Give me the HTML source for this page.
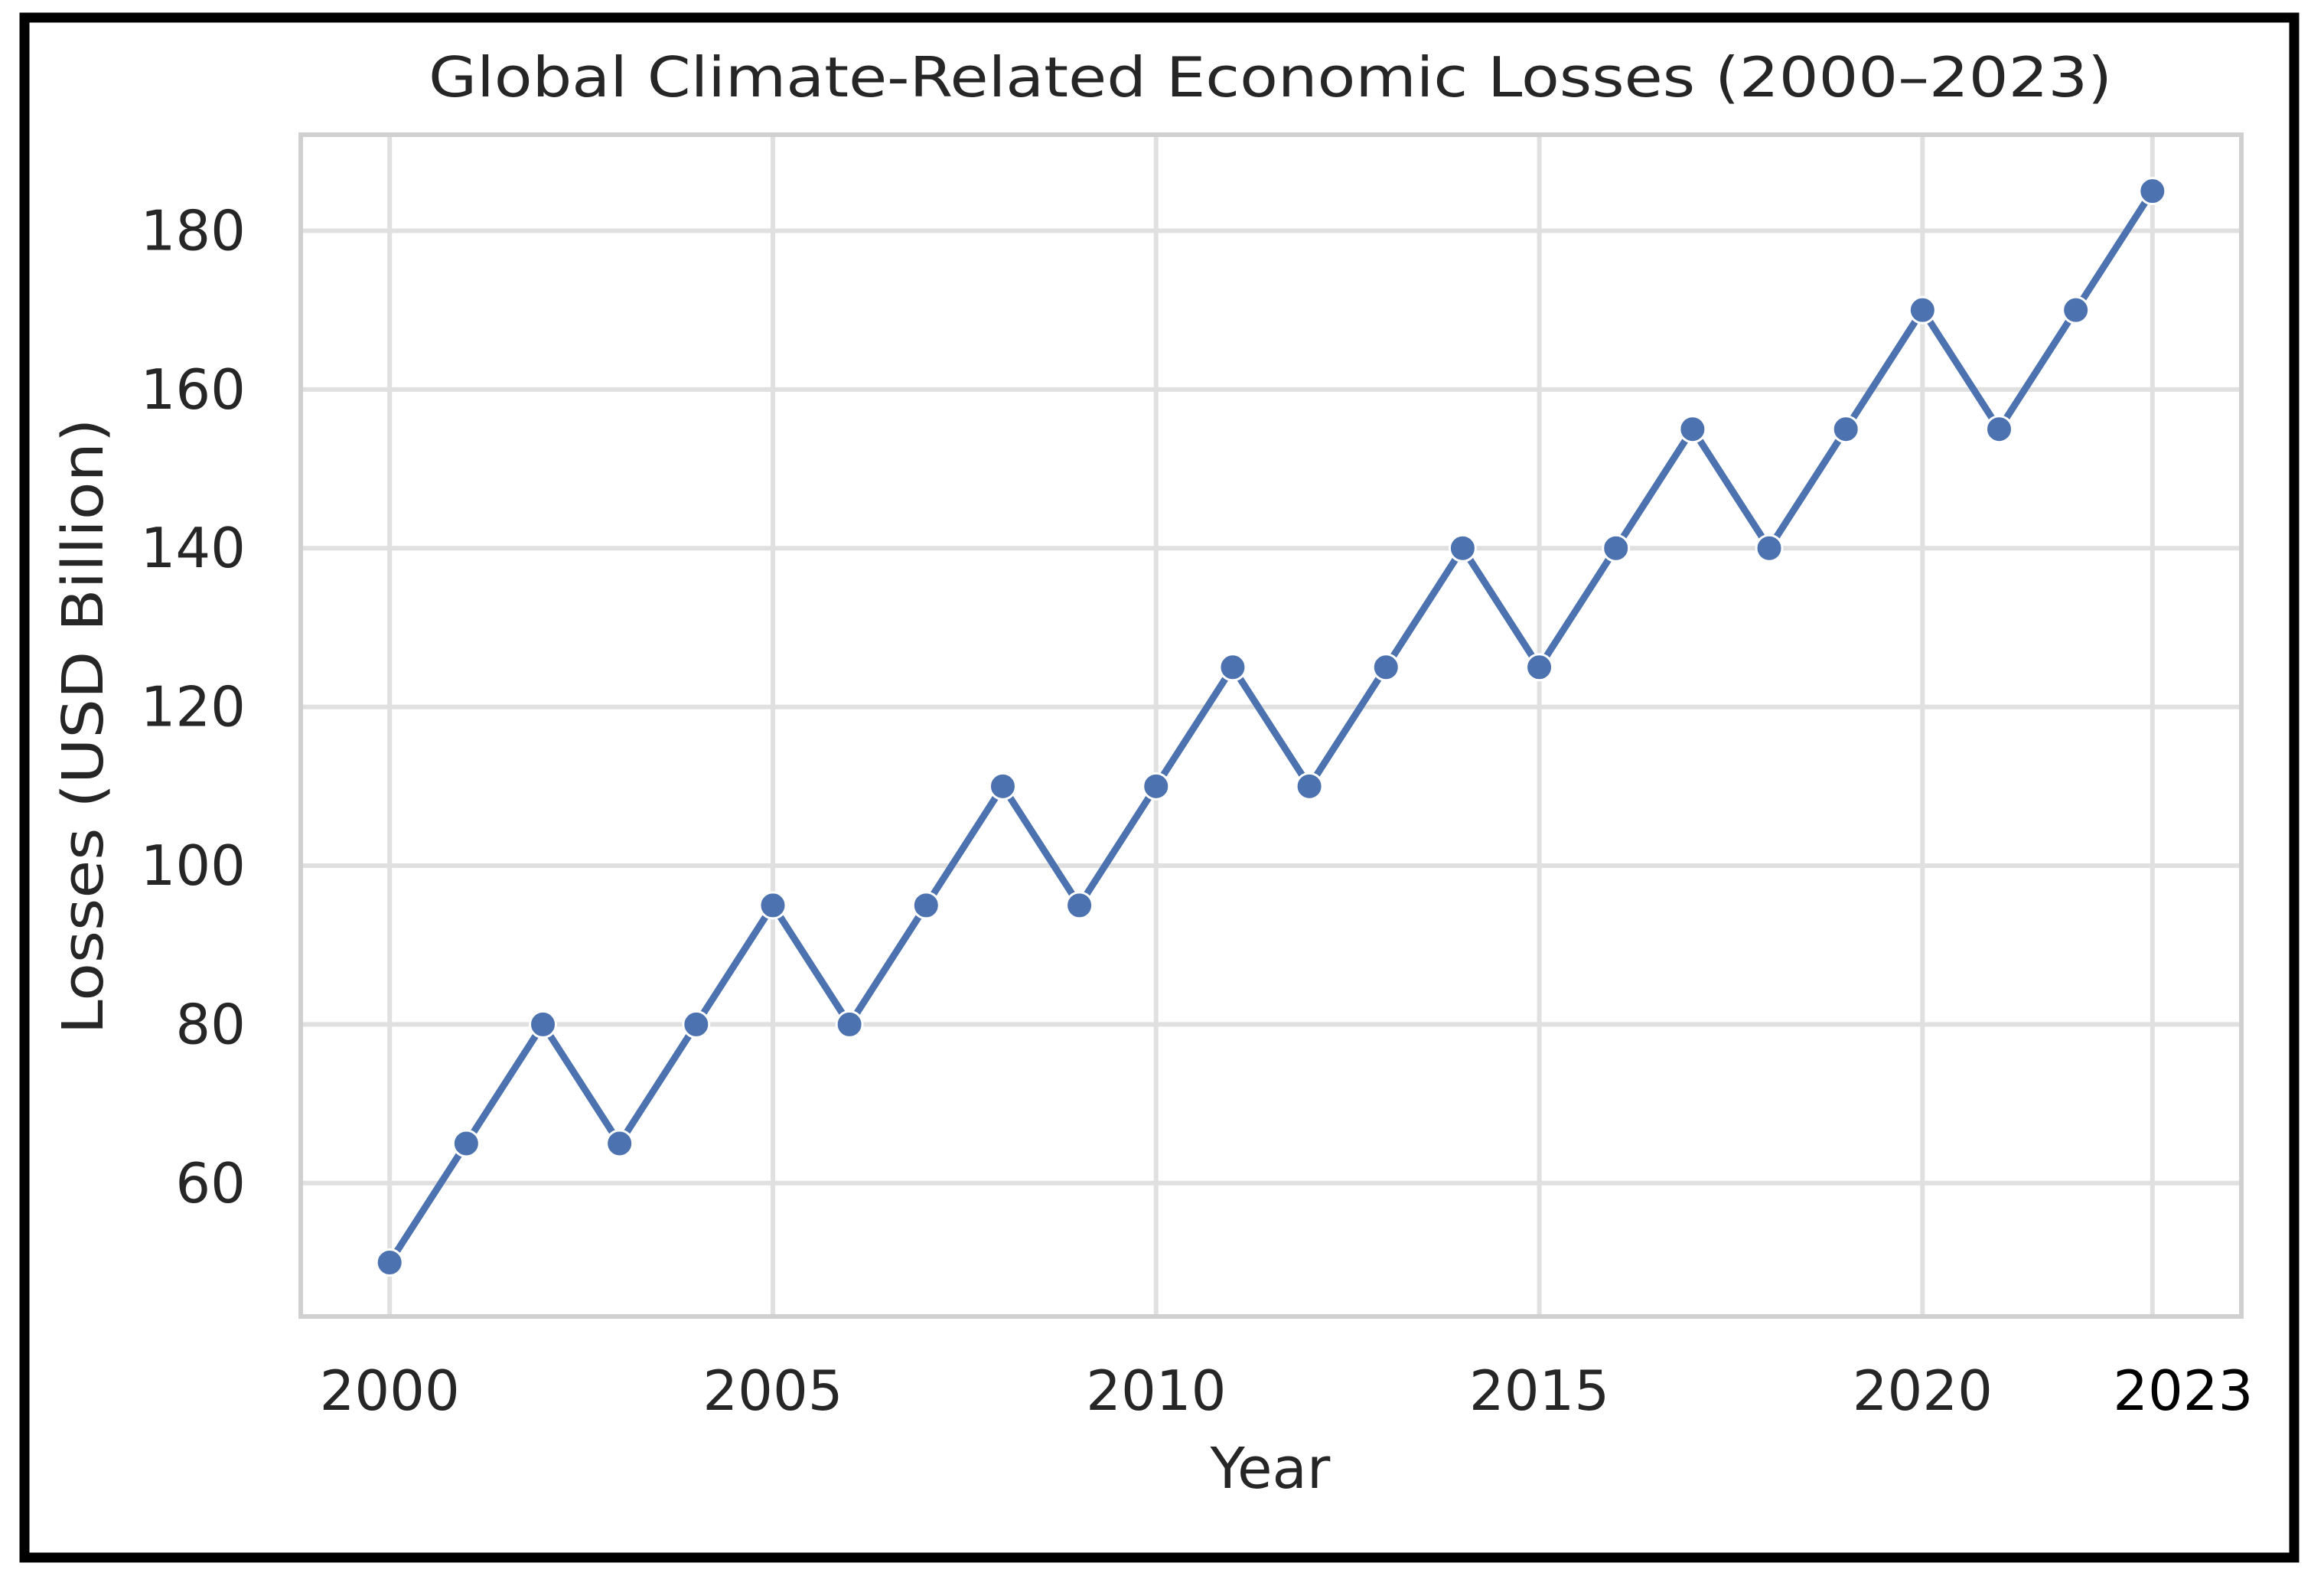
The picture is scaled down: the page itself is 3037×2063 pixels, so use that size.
<!DOCTYPE html>
<html><head><meta charset="utf-8"><style>
html,body{margin:0;padding:0;background:#fff}
svg{display:block}
text{font-family:"DejaVu Sans","Liberation Sans",sans-serif;fill:#262626}
</style></head><body>
<svg id="chart" width="3037" height="2063" viewBox="0 0 3037 2063">
<rect x="0" y="0" width="3037" height="2063" fill="#fff"/>
<rect x="32" y="23" width="2966" height="2012" fill="none" stroke="#000" stroke-width="13"/>
<g id="grid"></g>
<rect x="393" y="176" width="2536" height="1544" fill="none" stroke="#d0d0d0" stroke-width="6"/>
<g id="series"></g>
<g id="ticks"></g>
<text x="1660" y="126" font-size="72" text-anchor="middle" textLength="2200" lengthAdjust="spacingAndGlyphs">Global Climate-Related Economic Losses (2000–2023)</text>
<text x="1660" y="1944" font-size="74" text-anchor="middle">Year</text>
<text transform="translate(134,949) rotate(-90)" font-size="74" text-anchor="middle" textLength="805" lengthAdjust="spacingAndGlyphs">Losses (USD Billion)</text>
</svg>
<script>
const years = [2000,2001,2002,2003,2004,2005,2006,2007,2008,2009,2010,2011,2012,2013,2014,2015,2016,2017,2018,2019,2020,2021,2022,2023];
const losses = [50,65,80,65,80,95,80,95,110,95,110,125,110,125,140,125,140,155,140,155,170,155,170,185];
const xTicks = [2000,2005,2010,2015,2020,2023];
const yTicks = [60,80,100,120,140,160,180];

const NS = "http://www.w3.org/2000/svg";
const L = 393, R = 2929, T = 176, B = 1720;
const xMin = 1998.84, xMax = 2024.16, yMin = 43.2, yMax = 192.1;
function xs(v){ return L + (v - xMin) / (xMax - xMin) * (R - L); }
function ys(v){ return B - (v - yMin) / (yMax - yMin) * (B - T); }
function mk(tag, attrs){ const e = document.createElementNS(NS, tag); for (const k in attrs) e.setAttribute(k, attrs[k]); return e; }

const grid = document.getElementById('grid');
const ticks = document.getElementById('ticks');
yTicks.forEach(v => {
  const ln = mk('line', {x1:L, x2:R, y1:ys(v), y2:ys(v), stroke:'#e0e0e0', 'stroke-width':6});
  
  
  grid.appendChild(ln);
  const t = mk('text', {x:L - 72, y:ys(v) + 25, 'font-size':72, 'text-anchor':'end'});
  t.textContent = v;
  
  
  ticks.appendChild(t);
});
xTicks.forEach(v => {
  const ln = mk('line', {x1:xs(v), x2:xs(v), y1:T, y2:B, stroke:'#e0e0e0', 'stroke-width':6});
  
  
  grid.appendChild(ln);
  const isLast = v === 2023;
  const t = mk('text', {x:xs(v) + (isLast ? 40 : 0), y:1842, 'font-size':72, 'text-anchor':'middle'});
  if (isLast) t.setAttribute('style', 'fill:#000');
  t.textContent = v;
  
  
  ticks.appendChild(t);
});

const series = document.getElementById('series');
const pts = years.map((y, i) => xs(y) + ',' + ys(losses[i])).join(' ');
const line = mk('polyline', {points:pts, fill:'none', stroke:'#4c72b0', 'stroke-width':9, 'stroke-linejoin':'round'});


series.appendChild(line);
years.forEach((y, i) => {
  const c = mk('circle', {cx:xs(y), cy:ys(losses[i]), r:17, fill:'#4c72b0', stroke:'#fff', 'stroke-width':3});
  
  
  series.appendChild(c);
});
</script>
</body></html>
